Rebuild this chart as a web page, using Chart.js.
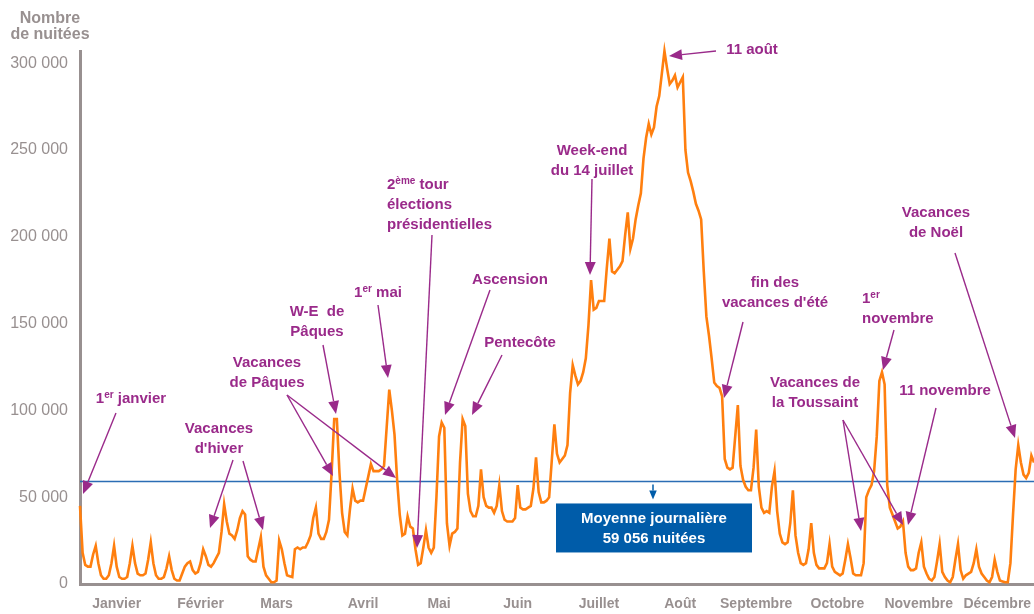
<!DOCTYPE html>
<html>
<head>
<meta charset="utf-8">
<script src="https://cdn.jsdelivr.net/npm/chart.js@4.4.0/dist/chart.umd.min.js"></script>
<style>
  html, body { margin: 0; padding: 0; background: #fff; }
  #wrap { width: 1034px; height: 614px; }
</style>
</head>
<body>
<div id="wrap"><canvas id="chart"></canvas></div>
<script>
// nuitées par jour, mois par mois
const janvier = [45000, 18000, 11000, 10000, 10000, 17000, 22000, 12000, 5000, 3000, 3000, 5000, 12000, 22000, 10000, 4000, 3000, 3000, 4000, 12000, 22000, 12000, 6000, 5000, 5000, 6000, 14000, 24000, 12000, 5000, 3000];
const fevrier = [3000, 4000, 9000, 16000, 8000, 3000, 2000, 2000, 6000, 10000, 12000, 13000, 8000, 6000, 7000, 12000, 20000, 16000, 11000, 10000, 12000, 15000, 18000, 30000, 46000, 36000, 29000, 28000];
const mars = [26000, 31000, 38000, 42000, 40000, 16000, 14000, 13000, 13000, 20000, 27000, 10000, 5000, 3000, 1000, 1000, 2000, 25000, 20000, 12000, 5000, 4500, 4000, 20000, 21000, 20000, 21000, 21000, 24000, 28000, 38000];
const avril = [44000, 29000, 26000, 26000, 30000, 37000, 64000, 95000, 95000, 64000, 41000, 30000, 28000, 43000, 55000, 48000, 47000, 48000, 48000, 55000, 62000, 69000, 65000, 65000, 65000, 66000, 68000, 90000, 112000, 100000];
const mai = [86000, 60000, 40000, 28000, 29000, 39000, 33000, 32000, 20000, 11000, 12000, 21000, 31000, 21000, 18000, 21000, 50000, 85000, 93000, 90000, 35000, 22000, 29000, 30000, 32000, 70000, 95000, 91000, 52000, 42000, 39000];
const juin = [39000, 45000, 66000, 50000, 45000, 44000, 44000, 41000, 45000, 57000, 42000, 37000, 36000, 36000, 36000, 38000, 57000, 44000, 43000, 43000, 44000, 45000, 55000, 73000, 53000, 47000, 47000, 48000, 50000, 71000];
const juillet = [92000, 75000, 70000, 72000, 74000, 80000, 110000, 126000, 120000, 115000, 117000, 122000, 130000, 149000, 175000, 158000, 159000, 163000, 163000, 163000, 182000, 199000, 180000, 179000, 181000, 183000, 186000, 201000, 214000, 193000, 199000];
const aout = [210000, 218000, 225000, 245000, 257000, 265000, 259000, 263000, 275000, 281000, 294000, 307000, 297000, 288000, 290000, 293000, 286000, 289000, 292000, 250000, 237000, 232000, 226000, 219000, 215000, 210000, 180000, 154000, 143000, 130000, 116000];
const septembre = [114000, 113000, 108000, 72000, 67000, 66000, 67000, 85000, 103000, 68000, 60000, 56000, 54000, 54000, 67000, 89000, 56000, 44000, 41000, 42000, 41000, 56000, 65000, 42000, 29000, 24000, 23000, 24000, 35000, 54000];
const octobre = [28000, 18000, 12000, 11000, 12000, 20000, 35000, 18000, 11000, 9000, 9000, 9000, 12000, 23000, 10000, 7000, 6000, 5000, 6000, 14000, 23000, 15000, 6000, 5000, 5000, 5000, 12000, 50000, 54000, 57000, 65000];
const novembre = [85000, 117000, 122000, 115000, 57000, 44000, 40000, 36000, 32000, 33000, 36000, 18000, 10000, 8000, 8000, 9000, 18000, 24000, 10000, 6000, 3000, 2000, 4000, 13000, 23000, 7000, 4000, 2000, 1000, 4000];
const decembre = [14000, 23000, 8000, 3000, 5000, 6000, 7000, 12000, 20000, 10000, 6000, 4000, 2000, 1000, 4000, 14000, 7000, 2000, 1500, 1000, 1000, 12000, 40000, 66000, 80000, 70000, 63000, 61000, 64000, 74000, 70000];

const nomsMois = ['Janvier', 'Février', 'Mars', 'Avril', 'Mai', 'Juin', 'Juillet', 'Août', 'Septembre', 'Octobre', 'Novembre', 'Décembre'];
const jourEtiquette = [14, 46, 75, 108, 137, 167, 198, 229, 258, 289, 320, 350];
const graduations = [0, 50000, 100000, 150000, 200000, 250000, 300000];
const moyenne = 59056;

const nuitees = [].concat(janvier, fevrier, mars, avril, mai, juin, juillet, aout, septembre, octobre, novembre, decembre);
const jours = nuitees.map((v, i) => String(i));

const gris = '#989090';
const violet = '#9a2a8a';
const bleu = '#005ca9';
const police = 'Arial, "Liberation Sans", sans-serif';

// textes et flèches des annotations
const notes = [
  { lignes: ['1^{er} janvier'], x: 131, y: 399, fleches: [[116, 413, 83, 494]] },
  { lignes: ['Vacances', "d'hiver"], x: 219, y: 429, fleches: [[233, 460, 210, 528], [243, 461, 263, 530]] },
  { lignes: ['Vacances', 'de Pâques'], x: 267, y: 363, fleches: [[287, 395, 333, 476], [287, 395, 396, 478]] },
  { lignes: ['W-E  de', 'Pâques'], x: 317, y: 312, fleches: [[323, 345, 336, 414]] },
  { lignes: ['1^{er} mai'], x: 378, y: 293, fleches: [[378, 305, 388, 378]] },
  { lignes: ['2^{ème} tour', 'élections', 'présidentielles'], x: 387, y: 185, align: 'left', fleches: [[432, 235, 417, 548]] },
  { lignes: ['Ascension'], x: 510, y: 280, fleches: [[490, 290, 445, 415]] },
  { lignes: ['Pentecôte'], x: 520, y: 343, fleches: [[502, 355, 472, 415]] },
  { lignes: ['Week-end', 'du 14 juillet'], x: 592, y: 151, fleches: [[592, 179, 590, 275]] },
  { lignes: ['11 août'], x: 752, y: 50, fleches: [[716, 51, 669, 56]] },
  { lignes: ['fin des', "vacances d'été"], x: 775, y: 283, fleches: [[743, 322, 724, 398]] },
  { lignes: ['1^{er}', 'novembre'], x: 862, y: 299, align: 'left', fleches: [[894, 330, 883, 370]] },
  { lignes: ['Vacances de', 'la Toussaint'], x: 815, y: 383, fleches: [[843, 420, 861, 531], [843, 420, 903, 525]] },
  { lignes: ['11 novembre'], x: 945, y: 391, fleches: [[936, 408, 908, 525]] },
  { lignes: ['Vacances', 'de Noël'], x: 936, y: 213, fleches: [[955, 253, 1015, 438]] }
];

function espaces(v) {
  return String(v).replace(/\B(?=(\d{3})+(?!\d))/g, ' ');
}

function morceaux(txt) {
  const out = [];
  const re = /\^\{([^}]*)\}/g;
  let last = 0, m;
  while ((m = re.exec(txt))) {
    if (m.index > last) out.push({ t: txt.slice(last, m.index), sup: false });
    out.push({ t: m[1], sup: true });
    last = re.lastIndex;
  }
  if (last < txt.length) out.push({ t: txt.slice(last), sup: false });
  return out;
}

function ecrire(ctx, txt, x, y, align) {
  const parts = morceaux(txt);
  const fN = 'bold 15px ' + police, fS = 'bold 10px ' + police;
  let w = 0;
  parts.forEach(p => { ctx.font = p.sup ? fS : fN; p.w = ctx.measureText(p.t).width; w += p.w; });
  let cx = align === 'left' ? x : x - w / 2;
  ctx.textAlign = 'left';
  ctx.textBaseline = 'middle';
  parts.forEach(p => {
    ctx.font = p.sup ? fS : fN;
    ctx.fillText(p.t, cx, p.sup ? y - 4 : y);
    cx += p.w;
  });
}

function fleche(ctx, x1, y1, x2, y2, couleur, larg, tete) {
  const a = Math.atan2(y2 - y1, x2 - x1);
  const bx = x2 - Math.cos(a) * tete, by = y2 - Math.sin(a) * tete;
  ctx.strokeStyle = couleur;
  ctx.fillStyle = couleur;
  ctx.lineWidth = larg;
  ctx.beginPath();
  ctx.moveTo(x1, y1);
  ctx.lineTo(bx, by);
  ctx.stroke();
  const h = tete * 0.42;
  ctx.beginPath();
  ctx.moveTo(x2, y2);
  ctx.lineTo(bx + Math.sin(a) * h, by - Math.cos(a) * h);
  ctx.lineTo(bx - Math.sin(a) * h, by + Math.cos(a) * h);
  ctx.closePath();
  ctx.fill();
}

const decor = {
  id: 'decor',
  beforeDatasetsDraw(chart) {
    const ctx = chart.ctx, area = chart.chartArea;
    const ym = chart.scales.y.getPixelForValue(moyenne);
    ctx.save();
    ctx.strokeStyle = '#2b6db4';
    ctx.lineWidth = 1.5;
    ctx.beginPath();
    ctx.moveTo(area.left, ym);
    ctx.lineTo(area.right, ym);
    ctx.stroke();
    ctx.restore();
  },
  afterDatasetsDraw(chart) {
    const ctx = chart.ctx;
    const ym = chart.scales.y.getPixelForValue(moyenne);
    ctx.save();

    // titre de l'axe
    ctx.fillStyle = gris;
    ctx.font = 'bold 16px ' + police;
    ctx.textAlign = 'center';
    ctx.textBaseline = 'middle';
    ctx.fillText('Nombre', 50, 19);
    ctx.fillText('de nuitées', 50, 35);

    // encadré de la moyenne
    fleche(ctx, 653, ym + 3, 653, ym + 18, bleu, 1.5, 9);
    ctx.fillStyle = bleu;
    ctx.fillRect(556, ym + 22, 196, 49);
    ctx.fillStyle = '#ffffff';
    ctx.font = 'bold 15px ' + police;
    ctx.textAlign = 'center';
    ctx.textBaseline = 'middle';
    ctx.fillText('Moyenne journalière', 654, ym + 37);
    ctx.fillText('59 056 nuitées', 654, ym + 57);

    // annotations
    notes.forEach(n => {
      n.fleches.forEach(f => fleche(ctx, f[0], f[1], f[2], f[3], violet, 1.4, 13));
      ctx.fillStyle = violet;
      n.lignes.forEach((l, k) => ecrire(ctx, l, n.x, n.y + k * 20, n.align || 'center'));
    });
    ctx.restore();
  }
};

new Chart(document.getElementById('chart'), {
  type: 'line',
  data: {
    labels: jours,
    datasets: [{
      label: 'Nuitées',
      data: nuitees,
      borderColor: '#ff7f0f',
      borderWidth: 2.6,
      pointRadius: 0,
      tension: 0,
      fill: false,
      clip: false
    }]
  },
  options: {
    responsive: true,
    maintainAspectRatio: false,
    animation: false,
    layout: { padding: { top: 51, left: 0, right: 0, bottom: 0 } },
    plugins: { legend: { display: false }, tooltip: { enabled: false } },
    scales: {
      x: {
        type: 'category',
        grid: { display: false, drawTicks: false },
        border: { color: gris, width: 3 },
        ticks: {
          autoSkip: false,
          maxRotation: 0,
          minRotation: 0,
          padding: 12,
          color: gris,
          font: { family: police, size: 14, weight: 'bold' },
          callback: (v, i) => {
            const k = jourEtiquette.indexOf(i);
            return k >= 0 ? nomsMois[k] : '';
          }
        },
        afterFit: s => { s.height = 30; s.paddingLeft = 0; s.paddingRight = 0; }
      },
      y: {
        min: 0,
        max: 307000,
        grid: { display: false, drawTicks: false },
        border: { color: gris, width: 3 },
        ticks: {
          padding: 12,
          color: gris,
          font: { family: police, size: 16 },
          callback: v => espaces(v)
        },
        afterBuildTicks: s => { s.ticks = graduations.map(v => ({ value: v })); },
        afterFit: s => { s.width = 80; s.paddingTop = 0; s.paddingBottom = 0; }
      }
    }
  },
  plugins: [decor]
});
</script>
</body>
</html>
